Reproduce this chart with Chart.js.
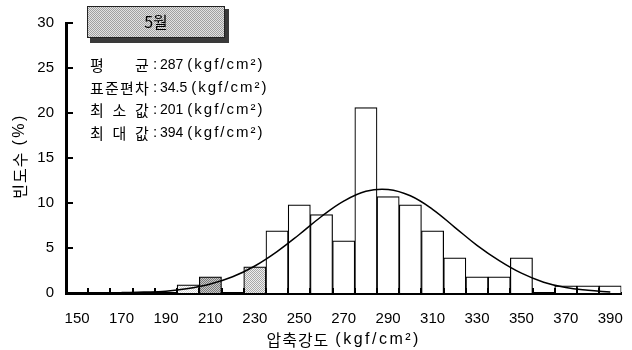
<!DOCTYPE html>
<html>
<head>
<meta charset="utf-8">
<script src="https://cdn.jsdelivr.net/npm/chart.js@4/dist/chart.umd.min.js"></script>
<style>
  html, body { margin: 0; padding: 0; background: #fff; }
  .histogram { position: relative; width: 632px; height: 350px; }
</style>
</head>
<body>
<div class="histogram js-histogram"><canvas class="js-histogram__canvas"></canvas></div>
<script>
// class marks (kgf/cm2), 10-wide bins
const binLabels = ['150', '160', '170', '180', '190', '200', '210', '220', '230', '240', '250', '260', '270',
  '280', '290', '300', '310', '320', '330', '340', '350', '360', '370', '380', '390'];
// relative frequency (%)
const frequency = [0, 0, 0, 0, 0, 0.9, 1.8, 0, 2.9, 6.9, 9.8, 8.7, 5.8,
  20.6, 10.7, 9.8, 6.9, 3.9, 1.8, 1.8, 3.9, 0, 0.8, 0.8, 0.8];
// fitted normal curve, read at each class mark
const normalCurve = [null, null, 0.05, 0.1, 0.2, 0.5, 1.0, 1.8, 3.0, 4.6, 6.5, 8.5, 10.2,
  11.3, 11.5, 10.8, 9.3, 7.3, 5.3, 3.6, 2.2, 1.2, 0.6, 0.3, 0.1];
const shadedBins = ['200', '210', '230'];
const yMax = 30;
const yStep = 5;

const monthTitle = '5월';
const statLabels = ['평균', '표준편차', '최소값', '최대값'];
const statValues = ['287', '34.5', '201', '394'];
const unitText = '(kgf/cm²)';
const xTitle = ['압축강도', '(kgf/cm²)'];
const yTitle = ['빈도수', '(%)'];

const LATIN = "'Liberation Sans', Arial, sans-serif";
const HANGUL = "'Noto Sans CJK KR', sans-serif";

class Histogram {
  constructor(anchor) {
    this.anchor = anchor;
    this.init();
  }

  init() {
    this.canvas = this.anchor.querySelector('.js-histogram__canvas');
    this.ctx = this.canvas.getContext('2d');
    this.createChart();
  }

  makeStipple(light, dark) {
    const tile = document.createElement('canvas');
    tile.width = 2;
    tile.height = 2;
    const t = tile.getContext('2d');
    t.fillStyle = light;
    t.fillRect(0, 0, 2, 2);
    t.fillStyle = dark;
    t.fillRect(0, 0, 1, 1);
    t.fillRect(1, 1, 1, 1);
    return this.ctx.createPattern(tile, 'repeat');
  }

  barColors() {
    const fills = {
      '200': this.makeStipple('#ffffff', '#d8d8d8'),
      '210': this.makeStipple('#c8c8c8', '#7a7a7a'),
      '230': this.makeStipple('#eeeeee', '#a8a8a8'),
    };
    return binLabels.map((b) => (shadedBins.includes(b) ? fills[b] : '#ffffff'));
  }

  insideTicks() {
    return {
      id: 'insideTicks',
      afterDatasetsDraw(chart) {
        const { ctx, chartArea, scales: { x, y } } = chart;
        ctx.save();
        ctx.strokeStyle = '#000';
        ctx.lineWidth = 2;
        ctx.beginPath();
        y.ticks.forEach((t) => {
          if (t.value === 0) return;
          const py = Math.round(y.getPixelForValue(t.value));
          ctx.moveTo(chartArea.left, py);
          ctx.lineTo(chartArea.left + 7, py);
        });
        for (let i = 1; i < binLabels.length; i++) {
          const px = Math.round((x.getPixelForValue(i - 1) + x.getPixelForValue(i)) / 2);
          ctx.moveTo(px, chartArea.bottom);
          ctx.lineTo(px, chartArea.bottom - 5);
        }
        ctx.stroke();
        ctx.restore();
      },
    };
  }

  // draws "hangul (latin)" with a gap, hangul in CJK font, latin spaced out
  drawTitle(ctx, parts, x, y) {
    ctx.font = `16px ${HANGUL}`;
    ctx.letterSpacing = '1px';
    const w1 = ctx.measureText(parts[0]).width;
    ctx.font = `16px ${LATIN}`;
    ctx.letterSpacing = '2.5px';
    const w2 = ctx.measureText(parts[1]).width;
    const gap = 6;
    let left = x - (w1 + gap + w2) / 2;
    ctx.textAlign = 'left';
    ctx.textBaseline = 'middle';
    ctx.font = `16px ${HANGUL}`;
    ctx.letterSpacing = '1px';
    ctx.fillText(parts[0], left, y);
    left += w1 + gap;
    ctx.font = `16px ${LATIN}`;
    ctx.letterSpacing = '2.5px';
    ctx.fillText(parts[1], left, y);
    ctx.letterSpacing = '0px';
  }

  infoPanel(boxFill) {
    const self = this;
    return {
      id: 'infoPanel',
      afterDraw(chart) {
        const { ctx, chartArea } = chart;
        ctx.save();
        // title box with drop shadow
        ctx.fillStyle = '#3a3a3a';
        ctx.fillRect(90, 9, 139, 34);
        ctx.fillStyle = boxFill;
        ctx.fillRect(87, 6, 138, 32);
        ctx.strokeStyle = '#222';
        ctx.lineWidth = 1;
        ctx.strokeRect(87.5, 6.5, 137, 31);
        ctx.fillStyle = '#000';
        ctx.font = `16px ${HANGUL}`;
        ctx.textAlign = 'center';
        ctx.textBaseline = 'middle';
        ctx.fillText(monthTitle, 156, 22);

        // summary statistics
        const rows = [65, 88, 110, 133];
        const labelLeft = 90;
        const labelWidth = 60;
        ctx.textAlign = 'left';
        statLabels.forEach((label, r) => {
          const chars = [...label];
          ctx.font = `15px ${HANGUL}`;
          const cw = 15;
          const step = (labelWidth - cw) / (chars.length - 1);
          chars.forEach((c, i) => ctx.fillText(c, labelLeft + i * step, rows[r]));
          ctx.font = `15px ${LATIN}`;
          ctx.fillText(':', 153, rows[r]);
          ctx.font = `14px ${LATIN}`;
          const numW = ctx.measureText(statValues[r]).width;
          ctx.fillText(statValues[r], 160, rows[r]);
          ctx.font = `15px ${LATIN}`;
          ctx.letterSpacing = '2px';
          ctx.fillText(unitText, 160 + numW + 4, rows[r]);
          ctx.letterSpacing = '0px';
        });

        // axis titles
        self.drawTitle(ctx, xTitle, (chartArea.left + chartArea.right) / 2, 340);
        ctx.translate(20, 156);
        ctx.rotate(-Math.PI / 2);
        self.drawTitle(ctx, yTitle, 0, 0);
        ctx.restore();
      },
    };
  }

  createChart() {
    Chart.defaults.font.family = `${LATIN.split(',')[0]}, ${HANGUL}`;
    Chart.defaults.color = '#000';

    const data = {
      labels: binLabels,
      datasets: [
        {
          type: 'line',
          data: normalCurve,
          borderColor: '#000',
          borderWidth: 1.5,
          pointRadius: 0,
          tension: 0.4,
          fill: false,
          order: 0,
        },
        {
          type: 'bar',
          data: frequency,
          backgroundColor: this.barColors(),
          borderColor: '#000',
          borderWidth: 1.2,
          barPercentage: 1,
          categoryPercentage: 1,
          order: 1,
        },
      ],
    };

    const options = {
      responsive: true,
      maintainAspectRatio: false,
      animation: false,
      layout: { padding: { top: 23, right: 10, left: 0, bottom: 0 } },
      plugins: {
        legend: { display: false },
        tooltip: { enabled: false },
      },
      scales: {
        x: {
          grid: { display: false },
          border: { display: true, color: '#000', width: 3 },
          ticks: {
            autoSkip: false,
            maxRotation: 0,
            padding: 9,
            font: { size: 15 },
            callback: (v, i) => (i % 2 === 0 ? binLabels[i] : ''),
          },
          afterFit: (scale) => { scale.height = 57; },
        },
        y: {
          min: 0,
          max: yMax,
          grid: { display: false },
          border: { display: true, color: '#000', width: 3 },
          ticks: {
            stepSize: yStep,
            padding: 4,
            font: { size: 15 },
          },
          afterFit: (scale) => { scale.width = 66; },
        },
      },
    };

    const boxFill = this.makeStipple('#e2e2e2', '#a0a0a0');

    return new Chart(this.ctx, {
      type: 'bar',
      data,
      options,
      plugins: [this.insideTicks(), this.infoPanel(boxFill)],
    });
  }
}

new Histogram(document.querySelector('.js-histogram'));
</script>
</body>
</html>
